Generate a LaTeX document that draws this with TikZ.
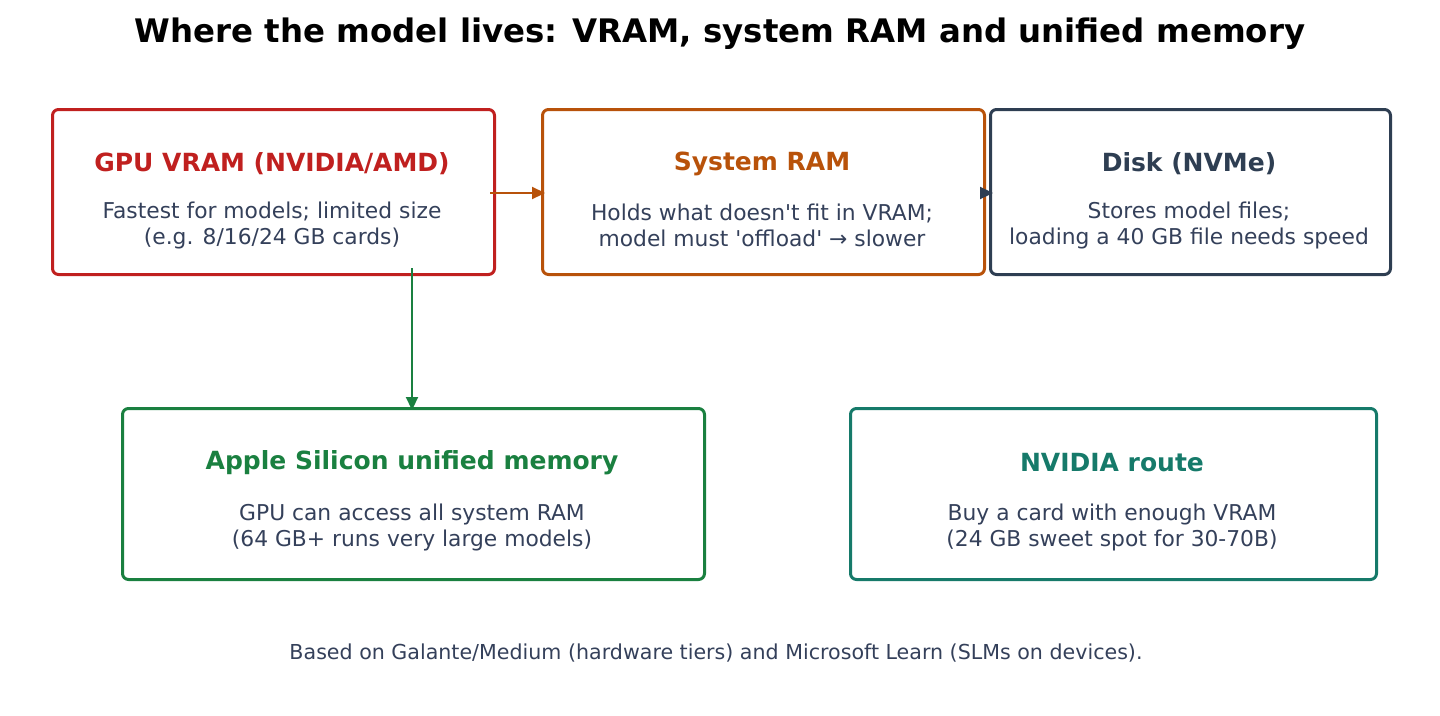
\documentclass[tikz,border=0pt]{standalone}
\usepackage{fontspec}
\setmainfont{DejaVu Sans}
\usetikzlibrary{arrows.meta}
\definecolor{cred}{HTML}{C0201F}
\definecolor{corange}{HTML}{B8520A}
\definecolor{cdark}{HTML}{2E3E52}
\definecolor{cgreen}{HTML}{1A8040}
\definecolor{cteal}{HTML}{167A6A}
\definecolor{ctext}{HTML}{34405A}
\tikzset{
 box/.style={draw=#1,line width=3pt,rounded corners=6pt,anchor=north west},
 ttl/.style={font=\fontsize{25}{30}\selectfont\bfseries},
 body/.style={font=\fontsize{21.8}{26}\selectfont,text=ctext,align=center},
 arr/.style={line width=2.2pt,-{Triangle[length=13pt,width=12pt]}},
}
\begin{document}
\begin{tikzpicture}[x=1pt,y=-1pt]
\useasboundingbox (0,0) rectangle (1440,715);
\node[font=\fontsize{32.4}{36}\selectfont\bfseries] (title) at (720,34) {Where the model lives: VRAM, system RAM and unified memory};
\node[box=cred,minimum width=442pt,minimum height=165pt] (gpu) at (51,108) {};
\node[box=corange,minimum width=442pt,minimum height=165pt] (ram) at (541,108) {};
\node[box=cdark,minimum width=400pt,minimum height=165pt] (disk) at (989,108) {};
\node[box=cgreen,minimum width=582pt,minimum height=171pt] (apple) at (121,407) {};
\node[box=cteal,minimum width=526pt,minimum height=171pt] (nv) at (849,407) {};
\node[ttl,text=cred] (t1) at (272,164) {GPU VRAM (NVIDIA/AMD)};
\node[body] (b1) at (272,225) {Fastest for models; limited size\\(e.g. 8/16/24 GB cards)};
\node[ttl,text=corange] (t2) at (762,164) {System RAM};
\node[body] (b2) at (762,225) {Holds what doesn\textquotesingle t fit in VRAM;\\model must \textquotesingle offload\textquotesingle{} → slower};
\node[ttl,text=cdark] (t3) at (1189,164) {Disk (NVMe)};
\node[body] (b3) at (1189,225) {Stores model files;\\loading a 40 GB file needs speed};
\node[ttl,text=cgreen] (t4) at (412,463) {Apple Silicon unified memory};
\node[body] (b4) at (412,527) {GPU can access all system RAM\\(64 GB+ runs very large models)};
\node[ttl,text=cteal] (t5) at (1112,463) {NVIDIA route};
\node[body] (b5) at (1112,527) {Buy a card with enough VRAM\\(24 GB sweet spot for 30-70B)};
\node[font=\fontsize{20.6}{24}\selectfont,text=ctext] (foot) at (716,653) {Based on Galante/Medium (hardware tiers) and Microsoft Learn (SLMs on devices).};
\draw[arr,corange] ([xshift=-6pt,yshift=-1pt]gpu.east) -- ([xshift=4pt,yshift=-1pt]ram.west);
\draw[arr,cdark] ([xshift=-4pt,yshift=-1pt]ram.east) -- ([xshift=4pt,yshift=-1pt]disk.west);
\coordinate (gs) at (412,268);
\coordinate (ge) at (412,410);
\draw[arr,cgreen] (gs) -- (ge);
\end{tikzpicture}
\end{document}
